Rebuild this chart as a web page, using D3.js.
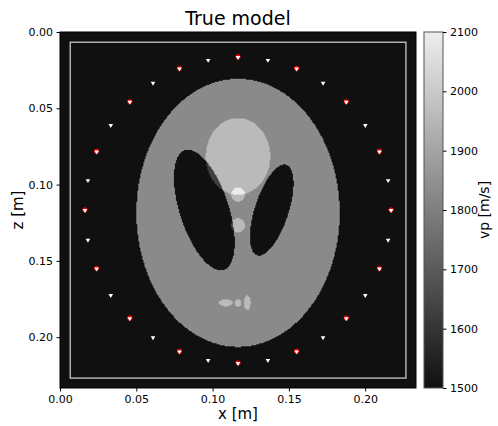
<!DOCTYPE html>
<html>
<head>
<meta charset="utf-8">
<script src="https://cdn.jsdelivr.net/npm/d3@7/dist/d3.min.js"></script>
<style>
  html, body { margin: 0; padding: 0; background: #fff; }
  svg text { font-family: "DejaVu Sans", sans-serif; fill: #000; }
</style>
</head>
<body>
<svg id="chart" width="498" height="426"></svg>
<script>
// ---- model description -------------------------------------------------
const extent = 0.2333;          // model size in x and z [m]
const gridN = 350;              // grid points per side
const vBackground = 1500;       // background velocity [m/s]
const phantomCentre = [0.11667, 0.11667]; // [x, z] in m
const phantomScale = 0.1005;    // m per phantom unit

// Shepp-Logan style ellipses: [x0, y0, a, b, tilt (deg), dv (m/s)], y0 up
const ellipses = [
  [0.00, -0.0184, 0.6624, 0.874, 0, 330],
  [0.22, 0.00, 0.11, 0.31, -18, -330],
  [-0.22, 0.00, 0.16, 0.41, 18, -330],
  [0.00, 0.35, 0.21, 0.25, 0, 130],
  [0.00, 0.10, 0.046, 0.046, 0, 130],
  [0.00, -0.10, 0.046, 0.046, 0, 130],
  [-0.08, -0.605, 0.046, 0.023, 0, 130],
  [0.00, -0.606, 0.023, 0.023, 0, 130],
  [0.06, -0.605, 0.023, 0.046, 0, 130]
];

// absorbing-boundary outline [x0, z0, x1, z1] in m
const boundaryBox = [0.0067, 0.0067, 0.2267, 0.2268];

// acquisition ring: 32 stations, sources on every other one
const ringCentre = [0.11667, 0.11667];
const ringRadius = 0.1003;
const stationCount = 32;
const sourceEvery = 2;

const xTicks = [0.00, 0.05, 0.10, 0.15, 0.20];
const zTicks = [0.00, 0.05, 0.10, 0.15, 0.20];
const cbarTicks = [1500, 1600, 1700, 1800, 1900, 2000, 2100];
const vRange = [1500, 2100];

// ---- layout --------------------------------------------------------------
const svg = d3.select("#chart");
const plot = { left: 60, top: 32, size: 356 };
const cbar = { left: 424, width: 19 };

const x = d3.scaleLinear().domain([0, extent]).range([plot.left, plot.left + plot.size]);
const z = d3.scaleLinear().domain([0, extent]).range([plot.top, plot.top + plot.size]);
const color = d3.scaleLinear().domain(vRange).range(["#101010", "#eeeeee"]).clamp(true);

// ---- velocity grid -------------------------------------------------------
function velocityAt(xm, zm) {
  let v = vBackground;
  const px = (xm - phantomCentre[0]) / phantomScale;
  const py = -(zm - phantomCentre[1]) / phantomScale;
  for (const [x0, y0, a, b, tilt, dv] of ellipses) {
    const t = tilt * Math.PI / 180;
    const dx = px - x0, dy = py - y0;
    const u = dx * Math.cos(t) + dy * Math.sin(t);
    const w = -dx * Math.sin(t) + dy * Math.cos(t);
    if ((u / a) ** 2 + (w / b) ** 2 <= 1) v += dv;
  }
  return v;
}

const h = extent / gridN;
const canvas = document.createElement("canvas");
canvas.width = gridN; canvas.height = gridN;
const ctx = canvas.getContext("2d");
const img = ctx.createImageData(gridN, gridN);
for (let j = 0; j < gridN; j++) {
  for (let i = 0; i < gridN; i++) {
    const c = d3.rgb(color(velocityAt((i + 0.5) * h, (j + 0.5) * h)));
    const k = 4 * (j * gridN + i);
    img.data[k] = c.r; img.data[k + 1] = c.g; img.data[k + 2] = c.b; img.data[k + 3] = 255;
  }
}
ctx.putImageData(img, 0, 0);

// resample the grid smoothly to the on-screen size
const plotPx = x(extent) - x(0);
const view = document.createElement("canvas");
view.width = Math.round(plotPx); view.height = Math.round(plotPx);
const vctx = view.getContext("2d");
vctx.imageSmoothingEnabled = true;
vctx.imageSmoothingQuality = "high";
vctx.drawImage(canvas, 0, 0, view.width, view.height);

svg.append("image")
  .attr("href", view.toDataURL())
  .attr("x", x(0)).attr("y", z(0))
  .attr("width", plotPx).attr("height", z(extent) - z(0))
  .attr("preserveAspectRatio", "none");

// boundary outline
svg.append("rect")
  .attr("x", x(boundaryBox[0])).attr("y", z(boundaryBox[1]))
  .attr("width", x(boundaryBox[2]) - x(boundaryBox[0]))
  .attr("height", z(boundaryBox[3]) - z(boundaryBox[1]))
  .attr("fill", "none").attr("stroke", "#c8c8c8").attr("stroke-width", 1.3);

// stations
const stations = d3.range(stationCount).map(k => {
  const th = 2 * Math.PI * k / stationCount;
  return { x: ringCentre[0] + ringRadius * Math.sin(th),
           z: ringCentre[1] - ringRadius * Math.cos(th),
           source: k % sourceEvery === 0 };
});

svg.append("g").selectAll("circle")
  .data(stations.filter(d => d.source))
  .join("circle")
  .attr("cx", d => x(d.x)).attr("cy", d => z(d.z) - 0.3)
  .attr("r", 2.6).attr("fill", "#e00000");

const tri = d3.symbol().type(d3.symbolTriangle).size(9);
svg.append("g").selectAll("path")
  .data(stations)
  .join("path")
  .attr("d", tri)
  .attr("transform", d => `translate(${x(d.x)},${z(d.z) + 0.3}) rotate(180)`)
  .attr("fill", "#ffffff");

// frame
svg.append("rect")
  .attr("x", plot.left).attr("y", plot.top)
  .attr("width", plot.size).attr("height", plot.size)
  .attr("fill", "none").attr("stroke", "#000").attr("stroke-width", 1);

// axes
const xAxis = d3.axisBottom(x).tickValues(xTicks).tickFormat(d3.format(".2f")).tickSize(3.5).tickPadding(3.5);
const zAxis = d3.axisLeft(z).tickValues(zTicks).tickFormat(d3.format(".2f")).tickSize(3.5).tickPadding(3.5);

function styleAxis(g) {
  g.select(".domain").remove();
  g.selectAll("text").attr("font-size", 11).attr("font-family", "DejaVu Sans").attr("fill", "#000");
  g.selectAll("line").attr("stroke", "#000");
}
svg.append("g").attr("transform", `translate(0,${plot.top + plot.size})`).call(xAxis).call(styleAxis);
svg.append("g").attr("transform", `translate(${plot.left},0)`).call(zAxis).call(styleAxis);

svg.append("text").attr("x", x(extent / 2)).attr("y", 419)
  .attr("text-anchor", "middle").attr("font-size", 15).text("x [m]");
svg.append("text").attr("transform", `translate(23,${z(extent / 2)}) rotate(-90)`)
  .attr("text-anchor", "middle").attr("font-size", 15).text("z [m]");
svg.append("text").attr("x", x(extent / 2)).attr("y", 25)
  .attr("text-anchor", "middle").attr("font-size", 19).text("True model");

// colorbar
const cScale = d3.scaleLinear().domain(vRange).range([plot.top + plot.size, plot.top]);
const grad = svg.append("defs").append("linearGradient")
  .attr("id", "vgrad").attr("x1", 0).attr("y1", 1).attr("x2", 0).attr("y2", 0);
d3.range(0, 1.0001, 0.1).forEach(t => {
  grad.append("stop").attr("offset", t).attr("stop-color", color(vRange[0] + t * (vRange[1] - vRange[0])));
});
svg.append("rect")
  .attr("x", cbar.left).attr("y", plot.top)
  .attr("width", cbar.width).attr("height", plot.size)
  .attr("fill", "url(#vgrad)").attr("stroke", "#555").attr("stroke-width", 1);

const cAxis = d3.axisRight(cScale).tickValues(cbarTicks).tickFormat(d3.format("d")).tickSize(3.5).tickPadding(3.5);
svg.append("g").attr("transform", `translate(${cbar.left + cbar.width},0)`).call(cAxis).call(styleAxis);

svg.append("text").attr("transform", `translate(489,${cScale(1800)}) rotate(-90)`)
  .attr("text-anchor", "middle").attr("font-size", 14).text("vp [m/s]");
</script>
</body>
</html>
